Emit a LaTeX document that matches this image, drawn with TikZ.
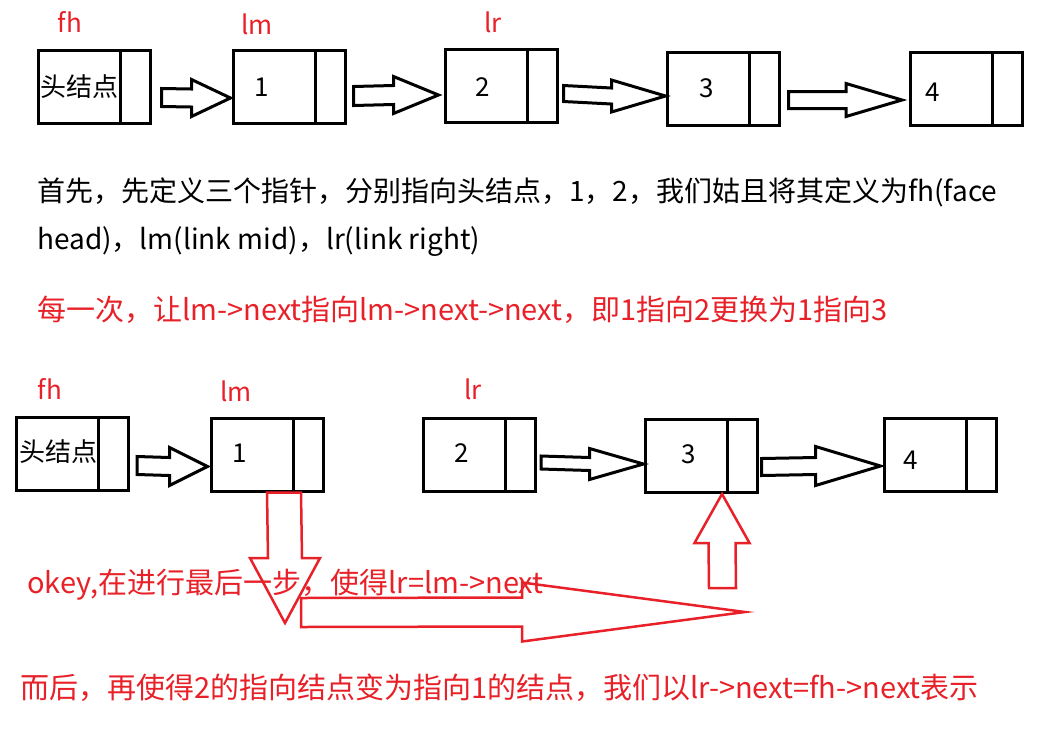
\documentclass[tikz,border=0pt]{standalone}
\usepackage{fontspec}
\setmainfont{Noto Sans CJK SC}
\usetikzlibrary{calc}
\definecolor{ptrred}{RGB}{232,32,40}
\tikzset{
  cell/.style={draw, line width=3pt, minimum width=112pt, minimum height=73pt, inner sep=0pt,
    path picture={\draw[line width=3pt] ([xshift=-30pt]path picture bounding box.north east) -- ([xshift=-30pt]path picture bounding box.south east);}},
  ptr/.style={text=ptrred, font=\fontsize{26}{30}\selectfont},
  num/.style={font=\fontsize{26}{30}\selectfont},
  say/.style={anchor=west, inner sep=0pt, font=\fontsize{28}{32}\selectfont},
  redsay/.style={say, text=ptrred, font=\fontsize{29}{32}\selectfont},
  blk/.style={draw, line width=3pt, line join=miter},
  redblk/.style={draw=ptrred, line width=2.5pt, line join=miter}
}
% #1 style, #2 tail, #3 tip, #4 half shaft, #5 half head, #6 head length
\newcommand{\blockarr}[6]{%
  \draw[#1] ($(#2)+(0,-#4)$) -- ($(#3)+({-1*(#6)},-#4)$) -- ($(#3)+({-1*(#6)},-#5)$) -- (#3)
    -- ($(#3)+({-1*(#6)},#5)$) -- ($(#3)+({-1*(#6)},#4)$) -- ($(#2)+(0,#4)$) -- cycle;}
\newcommand{\vblockarr}[6]{%
  \draw[#1] ($(#2)+(-#4,0)$) -- ($(#3)+(-#4,{-1*(#6)})$) -- ($(#3)+(-#5,{-1*(#6)})$) -- (#3)
    -- ($(#3)+(#5,{-1*(#6)})$) -- ($(#3)+(#4,{-1*(#6)})$) -- ($(#2)+(#4,0)$) -- cycle;}
\begin{document}
\begin{tikzpicture}[x=1pt,y=-1pt]
  \useasboundingbox (0,0) rectangle (1040,729);

  % first list
  \node[ptr] (fhA) at (70,22) {fh};
  \node[ptr] (lmA) at (257,24) {lm};
  \node[ptr] (lrA) at (493,22) {lr};
  \node[cell] (hA) at (94,86.5) {};
  \node[cell] (a1) at (289,87) {};
  \node[cell] (a2) at (501,86) {};
  \node[cell] (a3) at (723,88.5) {};
  \node[cell] (a4) at (966.5,88.5) {};
  \node[num] (hAt) at (79,87) {头结点};
  \node[num] (a1t) at (262,87) {1};
  \node[num] (a2t) at (483,87) {2};
  \node[num] (a3t) at (707,88) {3};
  \node[num] (a4t) at (933,92) {4};
  \coordinate (pA0) at ([xshift=10pt,yshift=-11pt]hA.east);
  \coordinate (pA1) at ([xshift=-1pt,yshift=-11pt]a1.west);
  \coordinate (pB0) at ([xshift=7pt,yshift=-9pt]a1.east);
  \coordinate (pB1) at ([xshift=-5pt,yshift=-9pt]a2.west);
  \coordinate (pC0) at ([xshift=5pt,yshift=-7.5pt]a2.east);
  \coordinate (pC1) at ([yshift=-7.5pt]a3.west);
  \coordinate (pD0) at ([xshift=8pt,yshift=-11.5pt]a3.east);
  \coordinate (pD1) at ([xshift=-7pt,yshift=-11.5pt]a4.west);
  \blockarr{blk}{pA0}{pA1}{9}{18.5}{39}
  \blockarr{blk}{pB0}{pB1}{9.5}{18.5}{45}
  \blockarr{blk}{pC0}{pC1}{8}{16}{54}
  \blockarr{blk}{pD0}{pD1}{8.5}{16.5}{56}

  \node[say] (s1) at (37,192) {首先，先定义三个指针，分别指向头结点，1，2，我们姑且将其定义为fh(face};
  \node[say] (s2) at (37,242) {head)，lm(link mid)，lr(link right)};
  \node[redsay] (s3) at (37,310) {每一次，让lm->next指向lm->next->next，即1指向2更换为1指向3};

  % second list
  \node[ptr] (fhB) at (50,389) {fh};
  \node[ptr] (lmB) at (236,391) {lm};
  \node[ptr] (lrB) at (473,389) {lr};
  \node[cell] (hB) at (72.5,453.5) {};
  \node[cell] (b1) at (267,454.5) {};
  \node[cell] (b2) at (479.5,454.5) {};
  \node[cell] (b3) at (701,456) {};
  \node[cell] (b4) at (940,455) {};
  \node[num] (hBt) at (58,452) {头结点};
  \node[num] (b1t) at (240,453) {1};
  \node[num] (b2t) at (462,453) {2};
  \node[num] (b3t) at (689,454) {3};
  \node[num] (b4t) at (911,460) {4};
  \coordinate (qA0) at ([xshift=7pt,yshift=-12pt]hB.east);
  \coordinate (qA1) at ([xshift=-2pt,yshift=-12pt]b1.west);
  \coordinate (qB0) at ([xshift=4pt,yshift=-8pt]b2.east);
  \coordinate (qB1) at ([yshift=-8pt]b3.west);
  \coordinate (qC0) at ([xshift=3pt,yshift=-11pt]b3.east);
  \coordinate (qC1) at ([xshift=-2pt,yshift=-11pt]b4.west);
  \blockarr{blk}{qA0}{qA1}{9}{19}{38}
  \blockarr{blk}{qB0}{qB1}{6.5}{15.5}{54}
  \blockarr{blk}{qC0}{qC1}{8.5}{19.5}{65}

  \node[redsay] (s4) at (27,585) {okey,在进行最后一步，使得lr=lm->next};
  \node[redsay] (s5) at (20,688) {而后，再使得2的指向结点变为指向1的结点，我们以lr->next=fh->next表示};

  % red moves
  \coordinate (dn0) at ([xshift=17pt]b1.south);
  \coordinate (dn1) at (285,623);
  \coordinate (up0) at (722.5,588);
  \coordinate (up1) at ([xshift=21pt]b3.south);
  \coordinate (rt0) at (301,612.5);
  \coordinate (rt1) at (745,612);
  \vblockarr{redblk}{dn0}{dn1}{17}{35}{65}
  \vblockarr{redblk}{up0}{up1}{13.5}{27.5}{-49}
  \blockarr{redblk}{rt0}{rt1}{14.5}{29.5}{223}
\end{tikzpicture}
\end{document}
